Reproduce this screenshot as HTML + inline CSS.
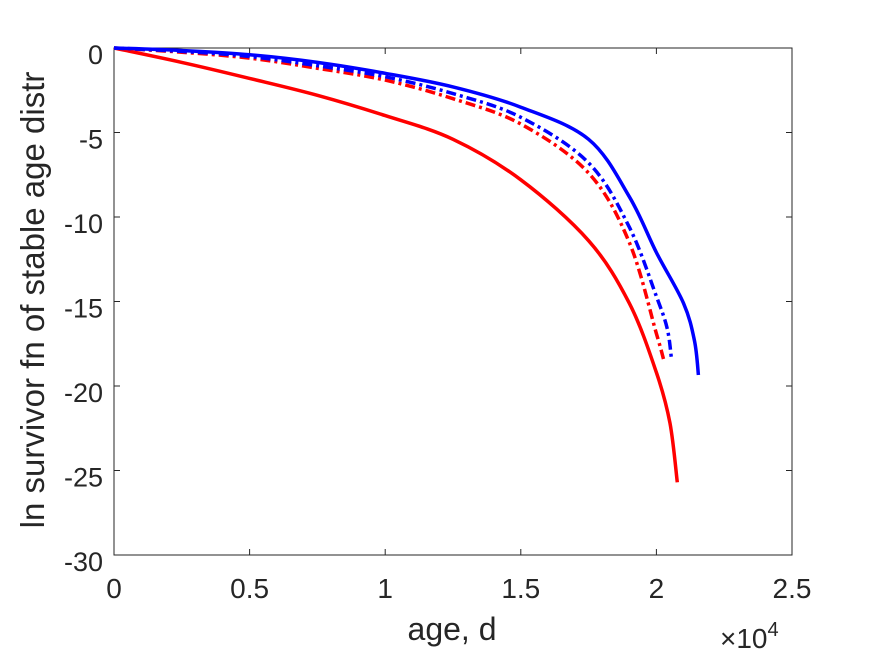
<!DOCTYPE html>
<html><head><meta charset="utf-8"><style>
html,body{margin:0;padding:0;background:#fff;}
svg{display:block;font-family:"Liberation Sans",sans-serif;}
</style></head><body>
<svg id="chart" width="875" height="656" viewBox="0 0 875 656" xmlns="http://www.w3.org/2000/svg">
<rect width="875" height="656" fill="#fff"/>
<g id="plot"></g>
</svg>
<script>
const xTicks=[0,0.5,1,1.5,2,2.5];
const yTicks=[0,-5,-10,-15,-20,-25,-30];
const xTickLabels=["0","0.5","1","1.5","2","2.5"];
const yTickLabels=["0","-5","-10","-15","-20","-25","-30"];
const blueSolidX=[0,0.25,0.5,0.75,1.0,1.25,1.5,1.75,1.9,2.0,2.1,2.14,2.155];
const blueSolidY=[0,-0.15,-0.4,-0.85,-1.5,-2.3,-3.5,-5.4,-8.8,-12.1,-15.1,-17.3,-19.35];
const blueDashX=[0,0.25,0.5,0.75,1.0,1.25,1.5,1.75,1.9,2.0,2.04,2.055];
const blueDashY=[0,-0.2,-0.5,-1.05,-1.7,-2.7,-4.1,-6.8,-10.6,-14.7,-16.6,-18.3];
const redDashX=[0,0.25,0.5,0.75,1.0,1.25,1.5,1.75,1.9,2.0,2.026];
const redDashY=[0,-0.25,-0.6,-1.2,-1.9,-3.0,-4.5,-7.4,-11.5,-16.9,-18.4];
const redSolidX=[0,0.25,0.5,0.75,1.0,1.25,1.5,1.75,1.9,2.0,2.05,2.077];
const redSolidY=[0,-0.85,-1.8,-2.8,-4.0,-5.4,-7.8,-11.4,-15.1,-19.2,-22.2,-25.7];
const L=114,R=792,T=48,B=555;
const xs=v=>L+(v-0)/2.5*(R-L);
const ys=v=>T+(0-v)/30*(B-T);
const NS="http://www.w3.org/2000/svg";
const g=document.getElementById('plot');
function mk(t,a){const e=document.createElementNS(NS,t);for(const k in a)e.setAttribute(k,a[k]);g.appendChild(e);return e;}
const box=mk('rect',{x:L,y:T,width:R-L,height:B-T,fill:'none',stroke:'#262626','stroke-width':1});


xTicks.forEach((v,i)=>{
 const x=xs(v);
 const t1=mk('line',{x1:x,x2:x,y1:B,y2:B-6,stroke:'#262626'});
 
 
 const t2=mk('line',{x1:x,x2:x,y1:T,y2:T+6,stroke:'#262626'});
 
 
 const tx=mk('text',{x:x,y:598,'text-anchor':'middle','font-size':28,fill:'#262626'});
 tx.textContent=xTickLabels[i];
 
 
});
yTicks.forEach((v,i)=>{
 const y=ys(v);
 const t1=mk('line',{x1:L,x2:L+6,y1:y,y2:y,stroke:'#262626'});
 
 
 const t2=mk('line',{x1:R,x2:R-6,y1:y,y2:y,stroke:'#262626'});
 
 
 const tx=mk('text',{x:103,y:y+16,'text-anchor':'end','font-size':27,fill:'#262626'});
 tx.textContent=yTickLabels[i];
 
 
});
function smoothPath(X,Y){
 const P=X.map((v,i)=>[xs(v),ys(Y[i])]);
 let d='M'+P[0][0].toFixed(1)+','+P[0][1].toFixed(1);
 for(let i=0;i<P.length-1;i++){
  const p0=P[i-1]||P[i],p1=P[i],p2=P[i+1],p3=P[i+2]||P[i+1];
  const c1=[p1[0]+(p2[0]-p0[0])/6,p1[1]+(p2[1]-p0[1])/6];
  const c2=[p2[0]-(p3[0]-p1[0])/6,p2[1]-(p3[1]-p1[1])/6];
  d+=' C'+c1.map(n=>n.toFixed(1)).join(',')+' '+c2.map(n=>n.toFixed(1)).join(',')+' '+p2.map(n=>n.toFixed(1)).join(',');
 }
 return d;
}
function series(X,Y,color,dash,name){
 const p=mk('path',{d:smoothPath(X,Y),fill:'none',stroke:color,'stroke-width':3.5});
 if(dash)p.setAttribute('stroke-dasharray','10,4,3,4');
 
 
}
series(redSolidX,redSolidY,'#ff0000',false,'red-solid-line');
series(redDashX,redDashY,'#ff0000',true,'red-dashdot-line');
series(blueDashX,blueDashY,'#0000ff',true,'blue-dashdot-line');
series(blueSolidX,blueSolidY,'#0000ff',false,'blue-solid-line');
const xl=mk('text',{x:452,y:640,'text-anchor':'middle','font-size':32,fill:'#262626'});
xl.textContent='age, d';


const ex=mk('text',{x:720,y:648,'font-size':28,fill:'#262626'});
ex.innerHTML='×10<tspan dy="-12" font-size="20">4</tspan>';


const yl=mk('text',{x:0,y:0,'text-anchor':'middle','font-size':33,fill:'#262626',transform:'translate(44,300) rotate(-90)'});
yl.textContent='ln survivor fn of stable age distr';


</script>
</body></html>
